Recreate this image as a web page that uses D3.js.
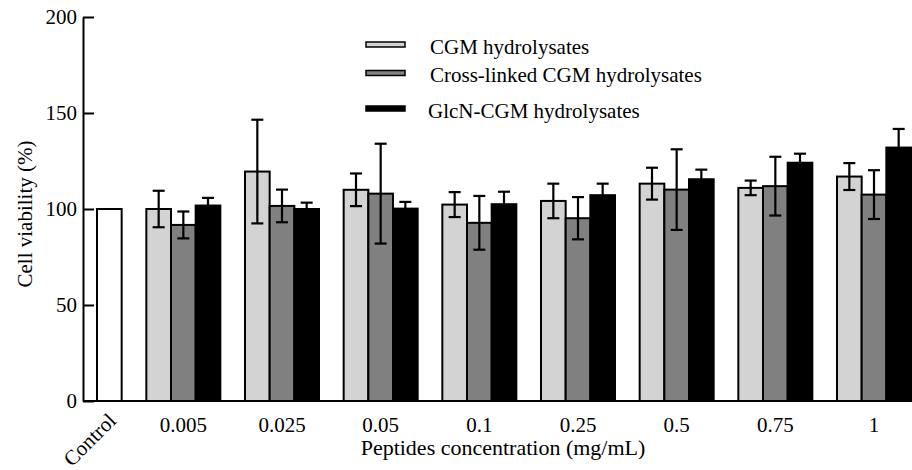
<!DOCTYPE html>
<html>
<head>
<meta charset="utf-8">
<script src="https://cdn.jsdelivr.net/npm/d3@7"></script>
<style>
  body { margin: 0; background: #fff; }
  svg text { font-family: "Liberation Serif", "Times New Roman", Times, "DejaVu Serif", serif !important; fill: #000; }
</style>
</head>
<body>
<script>
// values
var categories = ["0.005", "0.025", "0.05", "0.1", "0.25", "0.5", "0.75", "1"];
var seriesNames = ["CGM hydrolysates", "Cross-linked CGM hydrolysates", "GlcN-CGM hydrolysates"];
var controlValue = 100;
var cgm = [100, 119.5, 110, 102.3, 104.2, 113.2, 111, 116.9];
var cgmErr = [9.5, 27, 8.5, 6.5, 9, 8.3, 3.8, 7];
var crossLinked = [91.7, 101.6, 108, 92.8, 95.2, 110.1, 111.9, 107.5];
var crossLinkedErr = [7, 8.5, 26, 14, 11, 21, 15.3, 12.7];
var glcn = [101.8, 100, 100.2, 102.5, 107.2, 115.5, 124.1, 132];
var glcnErr = [4, 3.3, 3.5, 6.5, 6, 5, 4.7, 9.7];
var yTicks = [0, 50, 100, 150, 200];
var colors = ["#d3d3d3", "#808080", "#000000"];

var width = 912, height = 470;
var axisX = 83;
var serif = "'Liberation Serif', 'Times New Roman', Times, 'DejaVu Serif', serif";

var svg = d3.select("body").append("svg")
  .attr("width", width).attr("height", height)
  .attr("font-family", serif);

// one slot per bar, with an empty slot between groups
var slots = ["Control", "gap-c"];
categories.forEach(function (c, i) {
  slots.push(c + "|0", c + "|1", c + "|2");
  if (i < categories.length - 1) slots.push("gap-" + c);
});

var x = d3.scaleBand().domain(slots).range([97, 911]).padding(0);
var y = d3.scaleLinear().domain([0, 200]).range([401, 17]);

var values = [cgm, crossLinked, glcn];
var errors = [cgmErr, crossLinkedErr, glcnErr];
var bars = [{ slot: "Control", value: controlValue, err: 0, color: "#ffffff" }];
categories.forEach(function (c, i) {
  for (var s = 0; s < 3; s++) {
    bars.push({ slot: c + "|" + s, value: values[s][i], err: errors[s][i], color: colors[s] });
  }
});

// bars
svg.append("g").selectAll("rect").data(bars).enter().append("rect")
  .attr("x", function (d) { return x(d.slot); })
  .attr("y", function (d) { return y(d.value); })
  .attr("width", x.bandwidth())
  .attr("height", function (d) { return y(0) - y(d.value); })
  .attr("fill", function (d) { return d.color; })
  .attr("stroke", "#000")
  .attr("stroke-width", 2);

// error bars
var eb = svg.append("g").selectAll("g").data(bars.filter(function (d) { return d.err > 0; }))
  .enter().append("g")
  .attr("stroke", "#000").attr("stroke-width", 2.2);
eb.append("line")
  .attr("x1", function (d) { return x(d.slot) + x.bandwidth() / 2; })
  .attr("x2", function (d) { return x(d.slot) + x.bandwidth() / 2; })
  .attr("y1", function (d) { return y(d.value + d.err); })
  .attr("y2", function (d) { return y(d.value - d.err); });
[1, -1].forEach(function (sgn) {
  eb.append("line")
    .attr("x1", function (d) { return x(d.slot) + x.bandwidth() / 2 - 6; })
    .attr("x2", function (d) { return x(d.slot) + x.bandwidth() / 2 + 6; })
    .attr("y1", function (d) { return y(d.value + sgn * d.err); })
    .attr("y2", function (d) { return y(d.value + sgn * d.err); });
});

// y axis, ticks pointing inward
var yAxis = svg.append("g")
  .attr("transform", "translate(" + axisX + ",0)")
  .call(d3.axisLeft(y).tickValues(yTicks).tickSizeInner(-11).tickSizeOuter(0).tickPadding(6));
yAxis.attr("font-family", serif).attr("font-size", 21);
yAxis.selectAll("path, line").attr("stroke", "#000").attr("stroke-width", 2);
yAxis.selectAll("text").attr("fill", "#000");

// x baseline
svg.append("line")
  .attr("x1", axisX).attr("x2", x.range()[1])
  .attr("y1", y(0)).attr("y2", y(0))
  .attr("stroke", "#000").attr("stroke-width", 2);

// x labels
svg.append("g").selectAll("text").data(categories).enter().append("text")
  .attr("x", function (c) { return x(c + "|1") + x.bandwidth() / 2; })
  .attr("y", 432)
  .attr("text-anchor", "middle")
  .attr("font-size", 21)
  .text(function (c) { return c; });

svg.append("text")
  .attr("transform", "translate(" + (x("Control") + x.bandwidth() / 2 + 8) + ",422) rotate(-45)")
  .attr("text-anchor", "end")
  .attr("font-size", 21)
  .text("Control");

// axis titles
svg.append("text")
  .attr("x", 503).attr("y", 455)
  .attr("text-anchor", "middle")
  .attr("font-size", 22)
  .text("Peptides concentration (mg/mL)");

svg.append("text")
  .attr("transform", "translate(32," + (y(100) + 5) + ") rotate(-90)")
  .attr("text-anchor", "middle")
  .attr("font-size", 21)
  .text("Cell viability (%)");

// legend
var legendY = [44.5, 73, 108.5];
var legend = svg.append("g").selectAll("g").data(seriesNames).enter().append("g");
legend.append("rect")
  .attr("x", 366).attr("width", 39)
  .attr("y", function (d, i) { return legendY[i] - 2.5; })
  .attr("height", 5)
  .attr("fill", function (d, i) { return colors[i]; })
  .attr("stroke", "#000").attr("stroke-width", 1.5);
legend.append("text")
  .attr("x", function (d, i) { return i == 2 ? 428 : 430; })
  .attr("y", function (d, i) { return legendY[i] + 9; })
  .attr("font-size", 21)
  .text(function (d) { return d; });
</script>
</body>
</html>
